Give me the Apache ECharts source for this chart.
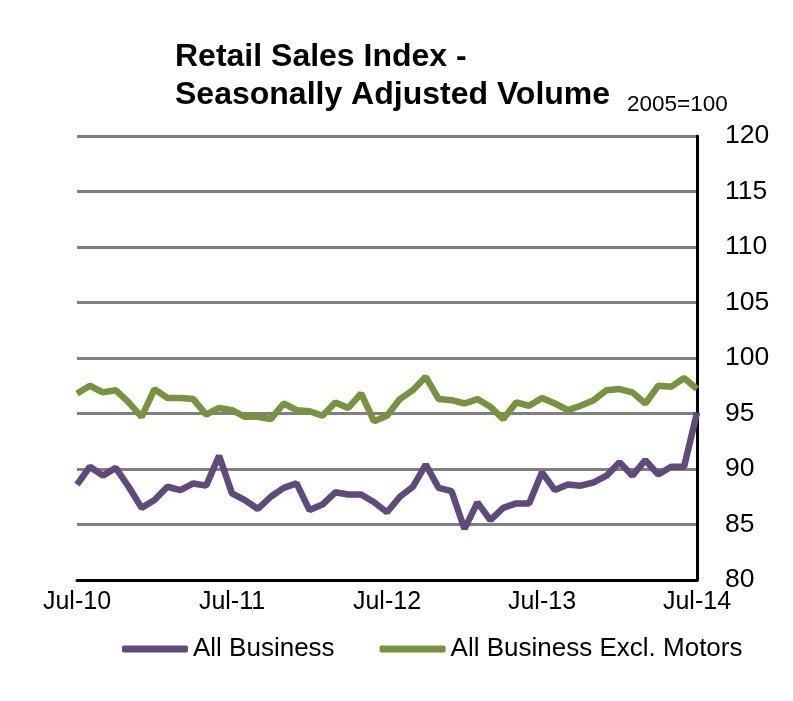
<!DOCTYPE html>
<html>
<head>
<meta charset="utf-8">
<script src="https://cdn.jsdelivr.net/npm/echarts@6/dist/echarts.min.js"></script>
<style>
  html, body { margin: 0; padding: 0; background: #fff; }
  #chart { width: 793px; height: 701px; }
</style>
</head>
<body>
<div id="chart"></div>
<script>
let months = [
  'Jul-10', 'Aug-10', 'Sep-10', 'Oct-10', 'Nov-10', 'Dec-10', 'Jan-11', 'Feb-11', 'Mar-11', 'Apr-11', 'May-11', 'Jun-11',
  'Jul-11', 'Aug-11', 'Sep-11', 'Oct-11', 'Nov-11', 'Dec-11', 'Jan-12', 'Feb-12', 'Mar-12', 'Apr-12', 'May-12', 'Jun-12',
  'Jul-12', 'Aug-12', 'Sep-12', 'Oct-12', 'Nov-12', 'Dec-12', 'Jan-13', 'Feb-13', 'Mar-13', 'Apr-13', 'May-13', 'Jun-13',
  'Jul-13', 'Aug-13', 'Sep-13', 'Oct-13', 'Nov-13', 'Dec-13', 'Jan-14', 'Feb-14', 'Mar-14', 'Apr-14', 'May-14', 'Jun-14',
  'Jul-14'
];

let allBusiness = [
  88.6, 90.2, 89.4, 90.1, 88.4, 86.5, 87.2, 88.4, 88.1, 88.7, 88.5, 91.2,
  87.8, 87.2, 86.4, 87.5, 88.3, 88.7, 86.3, 86.8, 87.9, 87.7, 87.7, 87.0,
  86.1, 87.5, 88.4, 90.4, 88.3, 88.0, 84.6, 87.0, 85.4, 86.5, 86.9, 86.9,
  89.7, 88.1, 88.6, 88.5, 88.8, 89.4, 90.6, 89.4, 90.8, 89.5, 90.2, 90.2,
  95.1
];

let exclMotors = [
  96.8, 97.5, 96.9, 97.1, 96.0, 94.7, 97.2, 96.4, 96.4, 96.3, 94.9, 95.5,
  95.3, 94.7, 94.7, 94.5, 95.9, 95.3, 95.2, 94.8, 96.0, 95.5, 96.8, 94.3,
  94.8, 96.3, 97.1, 98.3, 96.3, 96.2, 95.9, 96.3, 95.6, 94.5, 96.0, 95.7,
  96.4, 95.9, 95.3, 95.7, 96.2, 97.1, 97.2, 96.9, 95.9, 97.5, 97.4, 98.2,
  97.2
];

let yTicks = [80, 85, 90, 95, 100, 105, 110, 115, 120];

let font = '"Liberation Sans", Arial, sans-serif';
let instance = echarts.init(document.getElementById('chart'));

instance.setOption({
  animation: false,
  title: [{
    text: 'Retail Sales Index -\nSeasonally Adjusted Volume',
    left: 175,
    top: 38,
    padding: 0,
    textStyle: {
      fontFamily: font,
      fontWeight: 'bold',
      fontSize: 32,
      lineHeight: 38,
      color: '#000'
    }
  }, {
    text: '2005=100',
    left: 627,
    top: 93,
    padding: 0,
    textStyle: {
      fontFamily: font,
      fontWeight: 'normal',
      fontSize: 22.5,
      color: '#000'
    }
  }],
  color: ['#604A7B', '#77933C'],
  legend: {
    top: 636,
    left: 122,
    padding: 0,
    itemGap: 45,
    itemWidth: 66,
    itemHeight: 7,
    icon: 'roundRect',
    textStyle: {
      fontFamily: font,
      fontSize: 26,
      color: '#000'
    },
    data: ['All Business', 'All Business Excl. Motors']
  },
  grid: {
    left: 77,
    right: 96,
    top: 136,
    bottom: 121
  },
  xAxis: {
    type: 'category',
    boundaryGap: false,
    data: months,
    axisLine: { lineStyle: { color: '#000', width: 3 } },
    axisTick: { show: false },
    axisLabel: {
      interval: 11,
      fontFamily: font,
      fontSize: 25,
      color: '#000',
      margin: 10
    }
  },
  yAxis: {
    type: 'value',
    position: 'right',
    min: yTicks[0],
    max: yTicks[yTicks.length - 1],
    interval: 5,
    axisLine: { show: true, lineStyle: { color: '#000', width: 3 } },
    axisTick: { show: false },
    axisLabel: {
      fontFamily: font,
      fontSize: 26.5,
      color: '#000',
      margin: 28
    },
    splitLine: { lineStyle: { color: '#808080', width: 3 } }
  },
  series: [{
    name: 'All Business',
    type: 'line',
    data: allBusiness,
    symbol: 'none',
    lineStyle: { width: 6.5, color: '#604A7B' },
    z: 3
  }, {
    name: 'All Business Excl. Motors',
    type: 'line',
    data: exclMotors,
    symbol: 'none',
    lineStyle: { width: 6.5, color: '#77933C' },
    z: 3
  }]
});

window.onresize = () => {
  instance.resize();
};
</script>
</body>
</html>
